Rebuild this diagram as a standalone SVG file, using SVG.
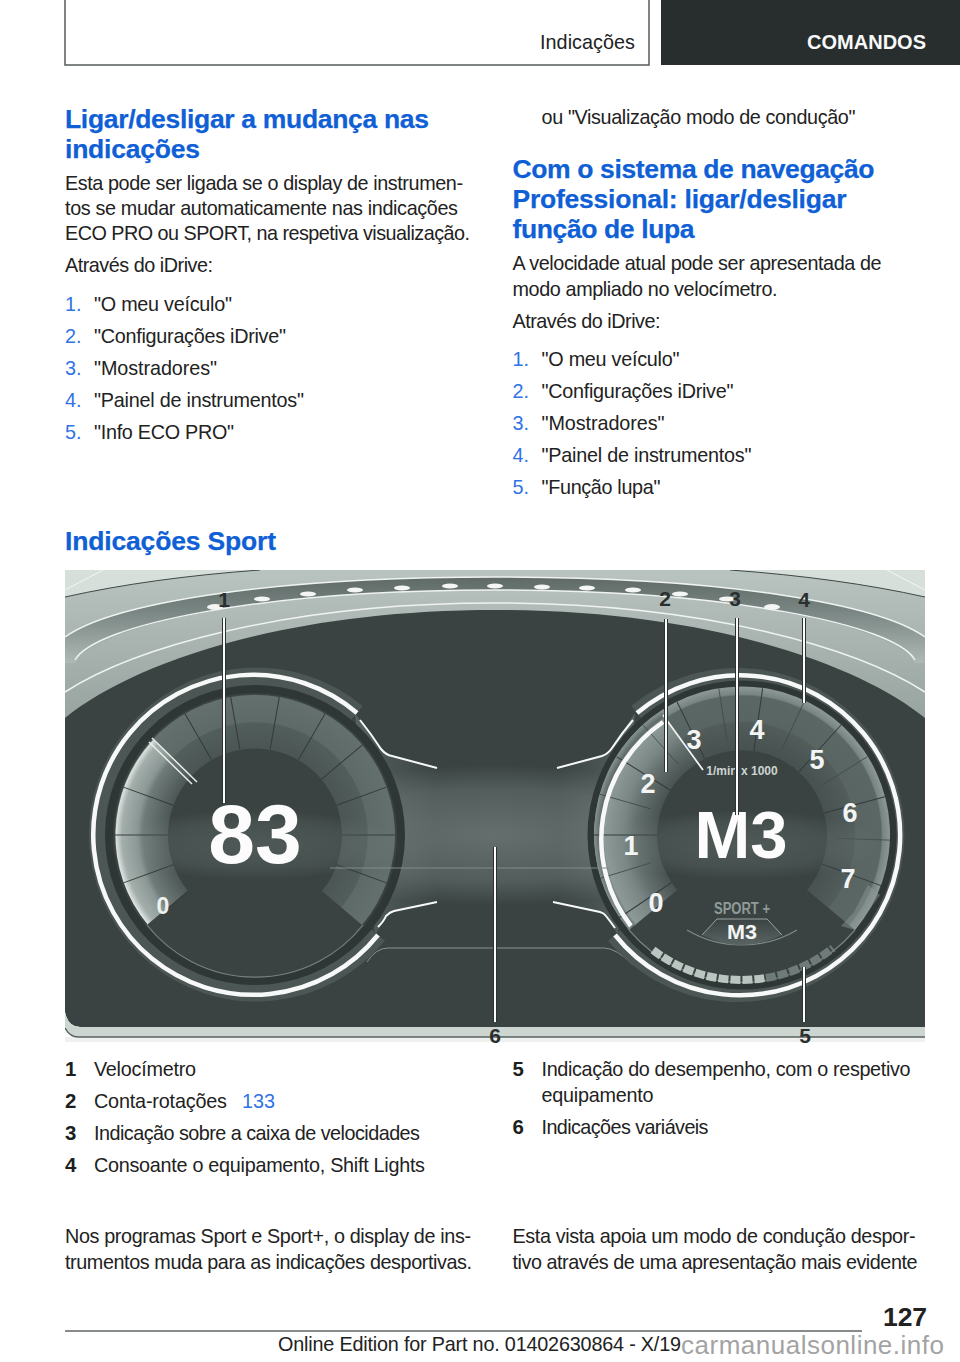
<svg xmlns="http://www.w3.org/2000/svg" xmlns:xlink="http://www.w3.org/1999/xlink" width="960" height="1362" viewBox="0 0 960 1362">
<style>
text{font-family:"Liberation Sans",Arial,sans-serif}
.b{font-size:19.8px;fill:#222}
.h{font-size:26.5px;font-weight:bold;fill:#0f5fd6;stroke:#0f5fd6;stroke-width:.25}
.n{font-size:19.8px;fill:#2f73e6}
.k{font-size:20.4px;font-weight:bold;fill:#1c1f1f}
.cl{font-size:21px;font-weight:bold;fill:#2a2f2f;text-anchor:middle}
.d{font-size:27px;font-weight:bold;fill:#f3f5f4;text-anchor:middle}
.w{fill:none;stroke:#f7f9f8;stroke-width:4.5}
.halo{fill:none;stroke:#4c5755;stroke-width:18}
.ln{fill:none;stroke:#eef2f0;stroke-width:1.5}
.tick{stroke:#333b3a;stroke-width:1}
.callh{fill:none;stroke:#2b3231;stroke-width:4}
.callc{fill:none;stroke:#fbfcfb;stroke-width:2}
.dash{fill:#f3f6f4}
</style>
<defs>
<linearGradient id="frame" x1="0" y1="0" x2="0" y2="1"><stop offset="0" stop-color="#b9c3bf"/><stop offset="1" stop-color="#98a4a0"/></linearGradient>
<linearGradient id="hood" x1="0" y1="0" x2="0" y2="1"><stop offset="0" stop-color="#5f6a67"/><stop offset=".4" stop-color="#7a8683"/><stop offset="1" stop-color="#aeb9b5"/></linearGradient>
<radialGradient id="bandL" gradientUnits="userSpaceOnUse" cx="255" cy="835" r="140"><stop offset=".62" stop-color="#4b5654"/><stop offset=".8" stop-color="#525e5c"/><stop offset=".81" stop-color="#5e6a68"/><stop offset="1" stop-color="#64706e"/></radialGradient>
<radialGradient id="sweepL" gradientUnits="userSpaceOnUse" cx="255" cy="835" r="140"><stop offset=".62" stop-color="#4d5856"/><stop offset=".8" stop-color="#6f7b78"/><stop offset=".84" stop-color="#8b9794"/><stop offset=".95" stop-color="#a4afac"/><stop offset="1" stop-color="#e6ebe8"/></radialGradient>
<radialGradient id="bandR" gradientUnits="userSpaceOnUse" cx="742" cy="835" r="148"><stop offset=".57" stop-color="#47514f"/><stop offset=".76" stop-color="#525d5b"/><stop offset=".77" stop-color="#596563"/><stop offset=".94" stop-color="#5b6765"/><stop offset=".95" stop-color="#788481"/><stop offset="1" stop-color="#8c9895"/></radialGradient>
<radialGradient id="sweepR" gradientUnits="userSpaceOnUse" cx="742" cy="835" r="148"><stop offset=".57" stop-color="#495452"/><stop offset=".72" stop-color="#64706d"/><stop offset=".8" stop-color="#7a8683"/><stop offset=".93" stop-color="#8e9a97"/><stop offset=".96" stop-color="#5f6b69"/><stop offset="1" stop-color="#85918e"/></radialGradient>
<radialGradient id="glow" cx=".5" cy=".5" r=".5"><stop offset="0" stop-color="#8e9c99" stop-opacity=".5"/><stop offset=".65" stop-color="#8e9c99" stop-opacity=".3"/><stop offset="1" stop-color="#8e9c99" stop-opacity="0"/></radialGradient>
<linearGradient id="trap" x1="0" y1="0" x2="0" y2="1"><stop offset="0" stop-color="#3a4342"/><stop offset="1" stop-color="#596563"/></linearGradient>
<linearGradient id="flareL" x1="0" y1="0" x2="1" y2="0"><stop offset="0" stop-color="#566260"/><stop offset="1" stop-color="#566260" stop-opacity="0"/></linearGradient>
<linearGradient id="flareR" x1="1" y1="0" x2="0" y2="0"><stop offset="0" stop-color="#566260"/><stop offset="1" stop-color="#566260" stop-opacity="0"/></linearGradient>
<line id="tl" x1="-87" y1="0" x2="-140" y2="0" class="tick"/>
<line id="tr" x1="-85" y1="0" x2="-148" y2="0" class="tick"/>
<line id="tm" x1="-95" y1="0" x2="-148" y2="0" stroke="#3f4a48" stroke-width=".8"/>
<clipPath id="photo"><rect x="65" y="570" width="860" height="472"/></clipPath>
</defs>

<rect width="960" height="1362" fill="#fff"/>

<g id="header">
<path d="M65 0V65H649V0" fill="none" stroke="#555b5a" stroke-width="1.5"/>
<rect x="661" y="0" width="299" height="65" fill="#282e2e"/>
<text x="540" y="48.500" class="b" textLength="95" lengthAdjust="spacing">Indicações</text>
<text x="807" y="48.500" font-size="20" font-weight="bold" fill="#f8f9f9" textLength="119" lengthAdjust="spacing">COMANDOS</text>
</g>

<g id="col-left">
<text x="65" y="127.500" class="h" textLength="364" lengthAdjust="spacing">Ligar/desligar a mudança nas</text>
<text x="65" y="157.500" class="h" textLength="135" lengthAdjust="spacing">indicações</text>
<text x="65" y="190" class="b" textLength="398" lengthAdjust="spacing">Esta pode ser ligada se o display de instrumen-</text>
<text x="65" y="215" class="b" textLength="393" lengthAdjust="spacing">tos se mudar automaticamente nas indicações</text>
<text x="65" y="240" class="b" textLength="405" lengthAdjust="spacing">ECO PRO ou SPORT, na respetiva visualização.</text>
<text x="65" y="272" class="b" textLength="148" lengthAdjust="spacing">Através do iDrive:</text>
<text x="65" y="311" class="n">1.</text><text x="94" y="311" class="b" textLength="138" lengthAdjust="spacing">"O meu veículo"</text>
<text x="65" y="343" class="n">2.</text><text x="94" y="343" class="b" textLength="192" lengthAdjust="spacing">"Configurações iDrive"</text>
<text x="65" y="375" class="n">3.</text><text x="94" y="375" class="b" textLength="123" lengthAdjust="spacing">"Mostradores"</text>
<text x="65" y="407" class="n">4.</text><text x="94" y="407" class="b" textLength="210" lengthAdjust="spacing">"Painel de instrumentos"</text>
<text x="65" y="439" class="n">5.</text><text x="94" y="439" class="b" textLength="140" lengthAdjust="spacing">"Info ECO PRO"</text>
</g>

<g id="col-right">
<text x="541.500" y="123.500" class="b" textLength="314" lengthAdjust="spacing">ou "Visualização modo de condução"</text>
<text x="512.500" y="178" class="h" textLength="362" lengthAdjust="spacing">Com o sistema de navegação</text>
<text x="512.500" y="208" class="h" textLength="334" lengthAdjust="spacing">Professional: ligar/desligar</text>
<text x="512.500" y="238" class="h" textLength="182" lengthAdjust="spacing">função de lupa</text>
<text x="512.500" y="270" class="b" textLength="369" lengthAdjust="spacing">A velocidade atual pode ser apresentada de</text>
<text x="512.500" y="295.500" class="b" textLength="265" lengthAdjust="spacing">modo ampliado no velocímetro.</text>
<text x="512.500" y="327.500" class="b" textLength="148" lengthAdjust="spacing">Através do iDrive:</text>
<text x="512.500" y="366" class="n">1.</text><text x="541.500" y="366" class="b" textLength="138" lengthAdjust="spacing">"O meu veículo"</text>
<text x="512.500" y="398" class="n">2.</text><text x="541.500" y="398" class="b" textLength="192" lengthAdjust="spacing">"Configurações iDrive"</text>
<text x="512.500" y="430" class="n">3.</text><text x="541.500" y="430" class="b" textLength="123" lengthAdjust="spacing">"Mostradores"</text>
<text x="512.500" y="462" class="n">4.</text><text x="541.500" y="462" class="b" textLength="210" lengthAdjust="spacing">"Painel de instrumentos"</text>
<text x="512.500" y="494" class="n">5.</text><text x="541.500" y="494" class="b" textLength="119" lengthAdjust="spacing">"Função lupa"</text>
</g>

<text id="sport-title" x="65" y="549.500" class="h" textLength="211" lengthAdjust="spacing">Indicações Sport</text>

<g id="photo-bg" clip-path="url(#photo)">
<rect x="65" y="1037" width="860" height="5" fill="#eef1ef"/>
<path d="M65 570H925V1027H80Q68 1027 65 1012Z" fill="#3a4342"/>
<path d="M65 718C130 665 280 610 495 610C710 610 860 665 925 718V570H65Z" fill="url(#frame)"/>
<path d="M65 570H260Q150 578 65 597Z" fill="#d7dfdb"/>
<path d="M925 570H730Q840 578 925 597Z" fill="#d7dfdb"/>
<path d="M65 597Q150 578 260 570M925 597Q840 578 730 570" fill="none" stroke="#3f4846" stroke-width="1"/>
<path d="M65 590L103 570M925 590L887 570" fill="none" stroke="#f4f7f5" stroke-width="1"/>
<path d="M65 637C110 605 260 577 495 577C730 577 880 605 925 637V663H915C895 625 730 590 495 590C260 590 95 625 75 663H65Z" fill="url(#hood)"/>
<path d="M65 637C110 605 260 577 495 577C730 577 880 605 925 637" class="ln"/>
<path d="M75 660C95 625 260 590 495 590C730 590 895 625 915 660" class="ln" stroke-width="1"/>
<path d="M65 692C130 650 280 603 495 603C710 603 860 650 925 692" class="ln"/>
<g class="dash">
<ellipse cx="215" cy="607" rx="8" ry="3"/><ellipse cx="262" cy="599" rx="8" ry="2.500"/><ellipse cx="308" cy="594" rx="8" ry="2.500"/><ellipse cx="355" cy="590" rx="8" ry="2.500"/><ellipse cx="402" cy="588" rx="8" ry="2.500"/><ellipse cx="450" cy="586" rx="8" ry="2.500"/><ellipse cx="495" cy="586" rx="8" ry="2.500"/><ellipse cx="542" cy="587" rx="8" ry="2.500"/><ellipse cx="587" cy="588" rx="8" ry="2.500"/><ellipse cx="633" cy="590" rx="8" ry="2.500"/><ellipse cx="680" cy="594" rx="8" ry="2.500"/><ellipse cx="727" cy="599" rx="8" ry="2.500"/><ellipse cx="772" cy="607" rx="8" ry="3"/>
</g>
<path d="M355 713L381 749Q386 755 392 756L437 768V902L394 911Q390 912 386 916L375 935Z" fill="url(#flareL)"/>
<path d="M635 713L612 748Q608 754 602 756L557 768V902L600 912Q604 913 606 916L618 935Z" fill="url(#flareR)"/>
<ellipse cx="495" cy="835" rx="260" ry="70" fill="url(#glow)"/>
<path d="M65 1012Q68 1027 80 1027H925V1037H78Q70 1037 65 1028Z" fill="#cdd5d1"/>
<path d="M65 1028Q70 1037 78 1037H925" fill="none" stroke="#5a6361" stroke-width="1.500"/>
<path d="M367 962Q376 948 388 948H604Q616 948 633 965" fill="none" stroke="#87928f" stroke-width="1"/>
</g>

<g id="speedometer">
<path class="halo" d="M357 713A158 158 0 1 0 378 935"/>
<circle cx="255" cy="835" r="146" fill="#3a4342" stroke="#2f3736" stroke-width="8"/>
<path d="M148 925A140 140 0 1 1 362 925L322 891A87 87 0 1 0 188 891Z" fill="url(#bandL)"/>
<path d="M148 925A140 140 0 0 1 153 740L191 776A87 87 0 0 0 188 891Z" fill="url(#sweepL)"/>
<use href="#tl" transform="translate(255 835) rotate(-40)"/><use href="#tl" transform="translate(255 835) rotate(-20)"/><use href="#tl" transform="translate(255 835)"/><use href="#tl" transform="translate(255 835) rotate(20)"/><use href="#tl" transform="translate(255 835) rotate(60)"/><use href="#tl" transform="translate(255 835) rotate(80)"/><use href="#tl" transform="translate(255 835) rotate(100)"/><use href="#tl" transform="translate(255 835) rotate(120)"/><use href="#tl" transform="translate(255 835) rotate(140)"/><use href="#tl" transform="translate(255 835) rotate(160)"/><use href="#tl" transform="translate(255 835) rotate(180)"/><use href="#tl" transform="translate(255 835) rotate(200)"/>
<path d="M147 925A138 138 0 0 0 363 925" fill="none" stroke="#76827f" stroke-width="1.200"/>
<path d="M152 738L197 782M149 742L192 784" fill="none" stroke="#e9eeeb" stroke-width="1.500"/>
<path class="w" d="M357 713A160 160 0 1 0 378 935"/>
<path d="M360 720Q372 735 381 749Q386 755 392 756L437 768M378 927Q384 921 386 916Q390 912 394 911L437 902" fill="none" stroke="#f7f9f8" stroke-width="2"/>
<ellipse cx="255" cy="845" rx="150" ry="35" fill="url(#glow)" opacity=".5"/>
<text x="163" y="914" font-size="23" font-weight="bold" fill="#eef2f0" text-anchor="middle">0</text>
<text x="255" y="863" font-size="84" font-weight="bold" fill="#fbfcfb" text-anchor="middle">83</text>
</g>

<g id="tachometer">
<path class="halo" d="M637 713A158 158 0 1 1 615 935"/>
<circle cx="742" cy="835" r="151" fill="#3a4342" stroke="#2f3736" stroke-width="7"/>
<path d="M629 930A148 148 0 1 1 855 930L807 890A85 85 0 1 0 677 890Z" fill="url(#bandR)"/>
<path d="M629 930A148 148 0 0 1 661 711L696 764A85 85 0 0 0 677 890Z" fill="url(#sweepR)"/>
<use href="#tr" transform="translate(742 835) rotate(-34)"/><use href="#tr" transform="translate(742 835)"/><use href="#tr" transform="translate(742 835) rotate(32)"/><use href="#tr" transform="translate(742 835) rotate(64)"/><use href="#tr" transform="translate(742 835) rotate(98)"/><use href="#tr" transform="translate(742 835) rotate(132)"/><use href="#tr" transform="translate(742 835) rotate(165)"/><use href="#tr" transform="translate(742 835) rotate(200)"/>
<use href="#tm" transform="translate(742 835) rotate(-17)"/><use href="#tm" transform="translate(742 835) rotate(16)"/><use href="#tm" transform="translate(742 835) rotate(48)"/><use href="#tm" transform="translate(742 835) rotate(81)"/><use href="#tm" transform="translate(742 835) rotate(115)"/><use href="#tm" transform="translate(742 835) rotate(148)"/><use href="#tm" transform="translate(742 835) rotate(182)"/>
<path d="M854 912L841 926L855 930L880 895L868 885Z" fill="#8f9b98" opacity=".45"/>
<path d="M629 930A148 148 0 0 0 855 930" fill="none" stroke="#76827f" stroke-width="1.200"/>
<path d="M631 926A142 142 0 0 1 663 722" class="w" stroke-width="3.500"/>
<path d="M663 715L703 770" fill="none" stroke="#eef2f0" stroke-width="1.800"/>
<path class="w" d="M637 713A160 160 0 1 1 615 935"/>
<path d="M633 720Q622 733 612 748Q608 754 602 756L557 768M615 928Q610 921 606 916Q604 913 600 912L553 902" fill="none" stroke="#f7f9f8" stroke-width="2"/>
<path d="M653 950A145 145 0 0 0 765 978" fill="none" stroke="#bac4c0" stroke-width="8" stroke-dasharray="10 2"/>
<path d="M766 978A145 145 0 0 0 833 948" fill="none" stroke="#6f7b78" stroke-width="8" stroke-dasharray="10 2"/>
<path d="M687 930Q712 945 742 945Q772 945 797 930" fill="none" stroke="#7e8a87" stroke-width="1.200"/>
<path d="M702 935L717 919H767L782 935Q762 945 742 945Q722 945 702 935Z" fill="url(#trap)"/>
<path d="M702 935L717 919H767L782 935" fill="none" stroke="#9aa5a2" stroke-width="1"/>
<ellipse cx="742" cy="845" rx="140" ry="35" fill="url(#glow)" opacity=".5"/>
<text x="656" y="912" class="d">0</text><text x="631" y="855" class="d" font-size="24">1</text><text x="648" y="793" class="d">2</text><text x="694" y="749" class="d">3</text><text x="757" y="739" class="d">4</text><text x="817" y="769" class="d">5</text><text x="850" y="822" class="d">6</text><text x="848" y="888" class="d">7</text>
<text x="742" y="775" font-size="12" font-weight="bold" fill="#ccd4d1" text-anchor="middle">1/min x 1000</text>
<text x="741" y="858" font-size="67" font-weight="bold" fill="#fbfcfb" text-anchor="middle">M3</text>
<text x="742" y="914" font-size="16" font-weight="bold" fill="#8f9b98" text-anchor="middle" textLength="56" lengthAdjust="spacingAndGlyphs">SPORT +</text>
<text x="742" y="939" font-size="21" font-weight="bold" fill="#f3f5f4" text-anchor="middle" textLength="30" lengthAdjust="spacingAndGlyphs">M3</text>
</g>

<path id="light-band" d="M330 868H610" stroke="#7f8c89" stroke-width="1" fill="none"/>

<g id="connectors">
<path class="callh" d="M224 618V803M495 847V1022M666 619V772M737 618V815M804 618V703M804 967V1022"/>
<path class="callc" d="M224 618V803M495 847V1022M666 619V772M737 618V815M804 618V703M804 967V1022"/>
</g>

<g id="callouts">
<text x="224" y="607" class="cl">1</text><text x="665" y="606" class="cl">2</text><text x="735" y="606" class="cl">3</text><text x="804" y="607" class="cl">4</text><text x="495" y="1043" class="cl">6</text><text x="805" y="1043" class="cl">5</text>
</g>

<g id="legend">
<text x="65" y="1076" class="k">1</text><text x="94" y="1076" class="b" textLength="102" lengthAdjust="spacing">Velocímetro</text>
<text x="65" y="1108" class="k">2</text><text x="94" y="1108" class="b" textLength="133" lengthAdjust="spacing">Conta-rotações</text><text x="242" y="1108" class="n" textLength="33" lengthAdjust="spacing">133</text>
<text x="65" y="1140" class="k">3</text><text x="94" y="1140" class="b" textLength="326" lengthAdjust="spacing">Indicação sobre a caixa de velocidades</text>
<text x="65" y="1172" class="k">4</text><text x="94" y="1172" class="b" textLength="331" lengthAdjust="spacing">Consoante o equipamento, Shift Lights</text>
<text x="512.500" y="1076" class="k">5</text><text x="541.500" y="1076" class="b" textLength="369" lengthAdjust="spacing">Indicação do desempenho, com o respetivo</text>
<text x="541.500" y="1101.500" class="b" textLength="112" lengthAdjust="spacing">equipamento</text>
<text x="512.500" y="1133.500" class="k">6</text><text x="541.500" y="1133.500" class="b" textLength="167" lengthAdjust="spacing">Indicações variáveis</text>
</g>

<g id="body-bottom">
<text x="65" y="1243" class="b" textLength="406" lengthAdjust="spacing">Nos programas Sport e Sport+, o display de ins-</text>
<text x="65" y="1268.500" class="b" textLength="407" lengthAdjust="spacing">trumentos muda para as indicações desportivas.</text>
<text x="512.500" y="1243" class="b" textLength="403" lengthAdjust="spacing">Esta vista apoia um modo de condução despor-</text>
<text x="512.500" y="1268.500" class="b" textLength="405" lengthAdjust="spacing">tivo através de uma apresentação mais evidente</text>
</g>

<g id="footer">
<text x="883" y="1326" font-size="26.500" font-weight="bold" fill="#222" textLength="44" lengthAdjust="spacing">127</text>
<line x1="65" y1="1331" x2="862" y2="1331" stroke="#5f6564" stroke-width="1.500"/>
<text x="278" y="1350.500" class="b" textLength="403" lengthAdjust="spacing">Online Edition for Part no. 01402630864 - X/19</text>
<text x="681" y="1354" font-size="26" fill="#a3a3a3" textLength="263" lengthAdjust="spacing">carmanualsonline.info</text>
</g>
</svg>
